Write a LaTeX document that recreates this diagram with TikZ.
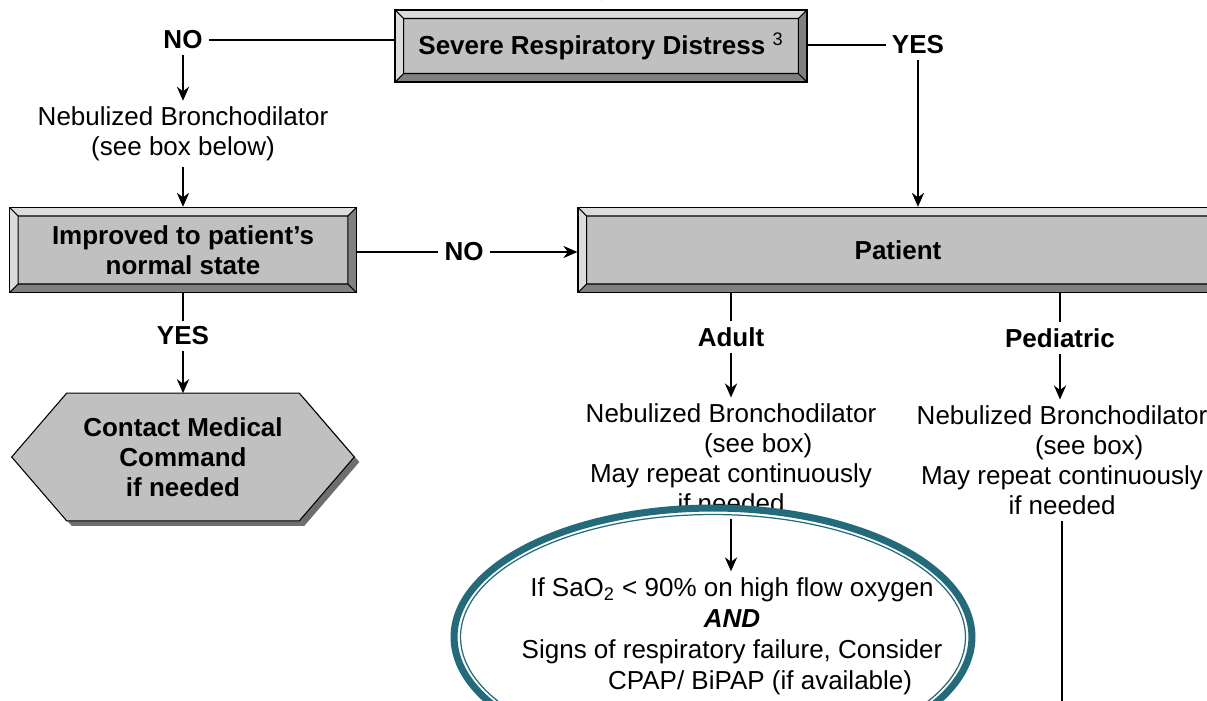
\documentclass[tikz,border=0pt]{standalone}
\usepackage{fontspec}
\setmainfont{Liberation Sans}
\usetikzlibrary{positioning, arrows.meta, shapes.geometric, backgrounds}
\definecolor{facegray}{HTML}{C0C0C0}
\definecolor{bevlight}{HTML}{DCDCDC}
\definecolor{bevdark}{HTML}{808080}
\definecolor{hexshadow}{HTML}{6E6E6E}
\definecolor{ovalteal}{HTML}{236A7A}
\newcommand{\flowfont}{\fontsize{14.8pt}{17pt}\selectfont}
\newcommand{\bevw}{0.17cm}
% hexagon outline round the node contact, shifted by #1,#2
\newcommand{\hexcontour}[2]{([shift={(1.1cm+#1,#2)}]contact.north west) -- ([shift={(-1.1cm+#1,#2)}]contact.north east) -- ([shift={(#1,#2)}]contact.east) -- ([shift={(-1.1cm+#1,#2)}]contact.south east) -- ([shift={(1.1cm+#1,#2)}]contact.south west) -- ([shift={(#1,#2)}]contact.west) -- cycle}
\tikzset{
line/.style={line width=0.75pt},
>={Stealth[length=8pt,width=7pt]},
lbl/.style={font=\flowfont\bfseries},
txt/.style={font=\flowfont, align=center},
bevel/.style={draw=black, line width=0.8pt, fill=facegray, align=center, font=\flowfont\bfseries,
  path picture={
    \coordinate (bnw) at (path picture bounding box.north west);
    \coordinate (bse) at (path picture bounding box.south east);
    \coordinate (bne) at (bse |- bnw);
    \coordinate (bsw) at (bnw |- bse);
    \coordinate (inw) at ([shift={(\bevw,-\bevw)}]bnw);
    \coordinate (ine) at ([shift={(-\bevw,-\bevw)}]bne);
    \coordinate (isw) at ([shift={(\bevw,\bevw)}]bsw);
    \coordinate (ise) at ([shift={(-\bevw,\bevw)}]bse);
    \fill[bevlight] (bnw) -- (bne) -- (ine) -- (inw) -- cycle;
    \fill[bevlight] (bnw) -- (inw) -- (isw) -- (bsw) -- cycle;
    \fill[bevdark] (bne) -- (ine) -- (ise) -- (bse) -- cycle;
    \fill[bevdark] (bsw) -- (isw) -- (ise) -- (bse) -- cycle;
    \draw[line width=0.6pt] (inw) rectangle (ise) (bnw) -- (inw) (bne) -- (ine) (bsw) -- (isw) (bse) -- (ise);
  }},
hexbox/.style={font=\flowfont\bfseries, align=center, minimum width=6.84cm, minimum height=2.54cm},
oval/.style={ellipse, draw=ovalteal, line width=4pt, fill=white, minimum width=10.36cm, minimum height=5.16cm, inner sep=0pt},
}

\begin{document}
\begin{tikzpicture}[x=0.02cm, y=-0.02cm]
        \clip (0,0) rectangle (1207,700);
        \coordinate (topin) at (601,-20);
        \coordinate (bottomend) at (0,720);
        \node[bevel, minimum width=8.24cm, minimum height=1.44cm] (severe) at (601,46) {Severe Respiratory Distress \textsuperscript{\mdseries 3}};
        \node[lbl] (noleft) at (183,40) {NO};
        \node[lbl] (yesright) at (918,45) {YES};
        \node[txt] (nebleft) at (183,134) {Nebulized Bronchodilator\\(see box below)};
        \node[bevel, minimum width=6.94cm, minimum height=1.7cm] (improved) at (183,250) {Improved to patient’s\\normal state};
        \node[bevel, minimum width=12.8cm, minimum height=1.7cm] (patient) at (898,250) {Patient};
        \node[lbl] (nomid) at (464,252) {NO};
        \node[lbl] (yesleft) at (183,336) {YES};
        \node[hexbox] (contact) at (183,457) {Contact Medical\\Command\\if needed};
        \begin{scope}[on background layer]
          \fill[hexshadow] \hexcontour{0.1cm}{-0.1cm};
          \draw[fill=facegray, line width=0.6pt] \hexcontour{0cm}{0cm};
        \end{scope}
        \node[lbl] (adult) at (731,337) {Adult};
        \node[lbl] (pediatric) at (1060,338) {Pediatric};
        \node[txt] (adultneb) at (731,458) {Nebulized Bronchodilator\\\hspace*{31pt}(see box)\\May repeat continuously\\if needed};
        \node[txt] (pedneb) at (1062,460) {Nebulized Bronchodilator\\\hspace*{31pt}(see box)\\May repeat continuously\\if needed};
        \node[oval] (cpapoval) at (713,637) {};
        \draw[ovalteal, line width=0.7pt] (cpapoval.center) ellipse [x radius=5.05cm, y radius=2.45cm];
        \node[txt, font=\fontsize{14.8pt}{17.6pt}\selectfont] (oxygen) at (732,636) {If SaO\textsubscript{2} < 90\% on high flow oxygen\\\textbf{\textit{AND}}\\Signs of respiratory failure, Consider\\\hspace*{32pt}CPAP/ BiPAP (if available)};
        \draw[line]
        (noleft.east) -- (noleft -| severe.west)
        (yesright.west) -- (yesright -| severe.east)
        (nomid -| improved.east) -- (nomid.west)
        (improved.south) -- (yesleft.north)
        (adult |- patient.south) -- (adult.north)
        (pediatric |- patient.south) -- (pediatric.north)
        (pedneb.south) -- (pedneb.south |- bottomend)
        (oxygen.south) -- (oxygen.south |- bottomend)
        (topin) edge[->] ([yshift=5pt]severe.north)
        (noleft) edge[->] (nebleft)
        (nebleft) edge[->] (improved)
        (yesright.south) edge[->] (yesright |- patient.north)
        (nomid.east) edge[->] (nomid -| patient.west)
        (yesleft.south) edge[->] (yesleft |- contact.north)
        (adult.south) edge[->] (adultneb.north)
        (pediatric.south) edge[->] (pediatric.south |- pedneb.north)
        (adultneb.south) edge[->] (adultneb.south |- oxygen.north)
        ;
    \end{tikzpicture}
\end{document}
